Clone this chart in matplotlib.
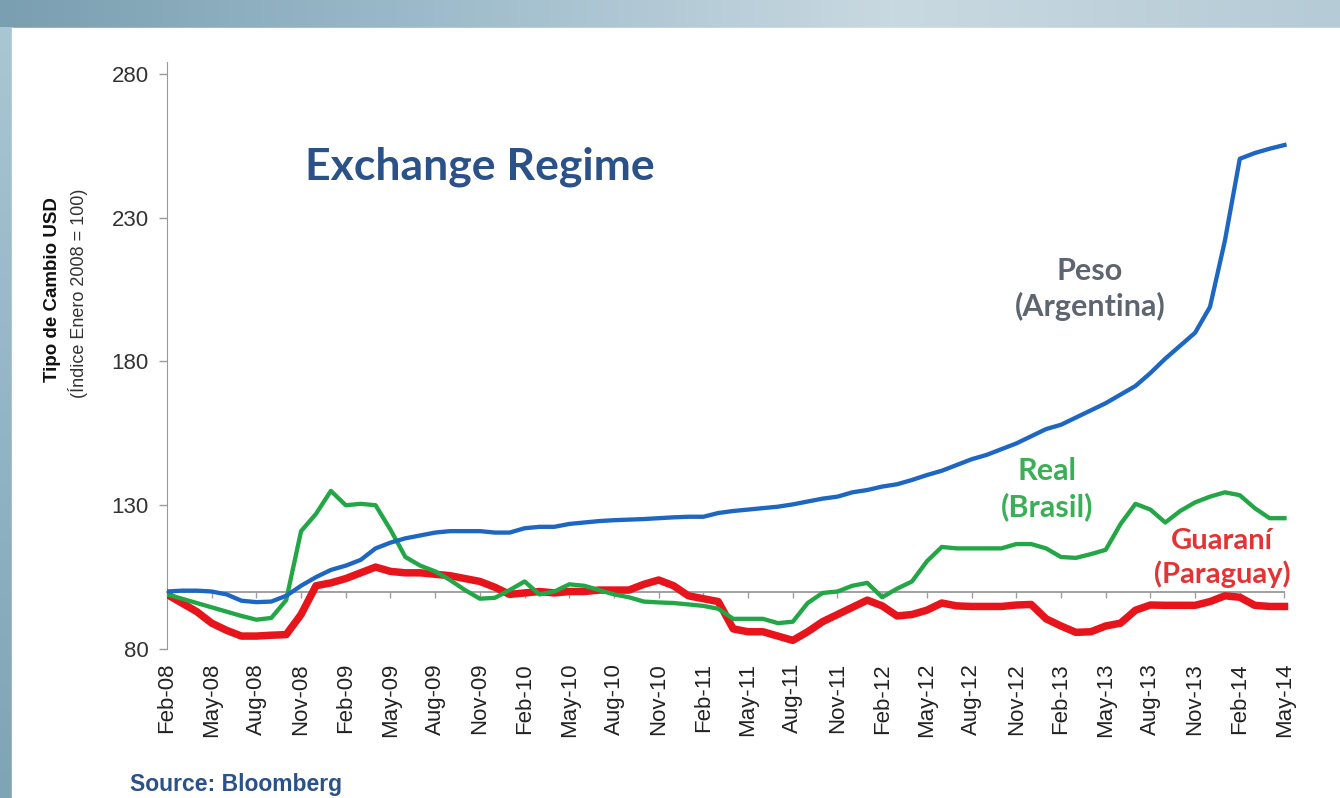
#!/usr/bin/env python3
import matplotlib.pyplot as plt
from matplotlib.colors import LinearSegmentedColormap
from matplotlib.patches import Rectangle
import numpy as np

# monthly index, Feb-08 .. May-14 (Enero 2008 = 100)
peso = [100, 100.3, 100.3, 100, 99, 96.8, 96.3, 96.5, 98.5, 102,
        105, 107.5, 109, 111, 115, 117, 118.5, 119.5, 120.5, 121,
        121, 121, 120.5, 120.5, 122, 122.5, 122.5, 123.5, 124, 124.5,
        124.8, 125, 125.2, 125.5, 125.8, 126, 126, 127.3, 128, 128.5,
        129, 129.5, 130.3, 131.3, 132.3, 133, 134.5, 135.3, 136.5, 137.3,
        138.8, 140.5, 142, 144, 146, 147.5, 149.5, 151.5, 154, 156.5,
        158, 160.5, 163, 165.5, 168.5, 171.5, 176, 181, 185.5, 190,
        199, 222, 250.5, 252.5, 254, 255.3]
real = [99, 97.5, 96, 94.5, 93, 91.5, 90.2, 90.8, 97, 121,
        127, 135, 130, 130.5, 130, 121.5, 112, 109, 107, 104,
        100.5, 97.5, 97.8, 100.5, 103.5, 99, 100, 102.5, 102, 100.5,
        99, 98, 96.5, 96.2, 96, 95.5, 95, 94, 90.5, 90.5,
        90.5, 89, 89.5, 96, 99.5, 100, 102, 103, 98, 101,
        103.5, 110.5, 115.5, 115, 115, 115, 115, 116.5, 116.5, 115,
        112, 111.7, 113, 114.5, 123.5, 130.5, 128.5, 124, 128, 131,
        133, 134.5, 133.5, 129, 125.5, 125.5]
guarani = [99, 96, 93, 89, 86.5, 84.5, 84.5, 84.8, 85, 92,
           102, 103, 104.5, 106.5, 108.5, 107, 106.5, 106.5, 106, 105.5,
           104.5, 103.5, 101.5, 99, 99.5, 100, 99.5, 100, 100, 100.5,
           100.5, 100.5, 102.5, 104, 102, 98.5, 97.5, 96.5, 87, 86,
           86, 84.5, 83, 86, 89.5, 92, 94.5, 97, 95, 91.5,
           92, 93.5, 96, 95, 94.8, 94.8, 94.8, 95.3, 95.5, 90.5,
           88, 85.8, 86, 88, 89, 93.5, 95.3, 95.2, 95.2, 95.2,
           96.5, 98.5, 98, 95.2, 94.8, 94.8]

tick_labels = ['Feb-08', 'May-08', 'Aug-08', 'Nov-08', 'Feb-09', 'May-09', 'Aug-09',
               'Nov-09', 'Feb-10', 'May-10', 'Aug-10', 'Nov-10', 'Feb-11', 'May-11',
               'Aug-11', 'Nov-11', 'Feb-12', 'May-12', 'Aug-12', 'Nov-12', 'Feb-13',
               'May-13', 'Aug-13', 'Nov-13', 'Feb-14', 'May-14']
y_ticks = [80, 130, 180, 230, 280]

months = np.arange(len(peso))
tick_pos = np.arange(0, len(peso), 3)

fig = plt.figure(figsize=(13.4, 7.98), dpi=100)
fig.patch.set_facecolor('white')

# slide frame behind the chart
bg = fig.add_axes([0, 0, 1, 1], zorder=-10)
top_cmap = LinearSegmentedColormap.from_list('frame', ['#7a9fb1', '#9ebccb', '#c9d9e1', '#b5cbd6'])
side_cmap = LinearSegmentedColormap.from_list('side', ['#a9c6d4', '#7fa4b5'])
bg.imshow(np.linspace(0, 1, 256)[None, :], extent=[0, 1, 0, 1], aspect='auto', cmap=top_cmap)
bg.imshow(np.linspace(0, 1, 256)[:, None], extent=[0, 0.009, 0, 0.965], aspect='auto', cmap=side_cmap)
bg.add_patch(Rectangle((0.009, 0), 1, 0.965, color='white', zorder=2))
bg.set_xlim(0, 1)
bg.set_ylim(0, 1)
bg.axis('off')

ax = fig.add_axes([0.1246, 0.1867, 0.8451, 0.735])
ax.patch.set_alpha(0)

ax.plot(months, guarani, color='#e8141b', lw=5.4, solid_joinstyle='round', zorder=3)
ax.plot(months, real, color='#22a646', lw=3.1, solid_joinstyle='round', zorder=4)
ax.plot(months, peso, color='#1d67c2', lw=3.1, solid_joinstyle='round', zorder=5)

ax.set_xlim(0, 76)
ax.set_ylim(80, 284)
ax.set_yticks(y_ticks)
ax.set_yticklabels([str(v) for v in y_ticks], fontsize=16, color='#333333', family='Liberation Sans')
ax.tick_params(axis='y', length=6, width=1, color='#999999', pad=7)

# category axis crosses at 100, labels stay at the bottom
ax.spines['bottom'].set_position(('data', 100))
ax.spines['bottom'].set_color('#a0a0a0')
ax.spines['bottom'].set_linewidth(1.4)
ax.spines['bottom'].set_bounds(0, 75)
ax.spines['bottom'].set_zorder(2)
ax.spines['left'].set_color('#999999')
ax.spines['top'].set_visible(False)
ax.spines['right'].set_visible(False)
ax.set_xticks(tick_pos)
ax.tick_params(axis='x', length=4, width=1, color='#a0a0a0', labelbottom=False)

lab = ax.secondary_xaxis(0.0)
lab.set_xticks(tick_pos)
lab.set_xticklabels(tick_labels, rotation=90, fontsize=16, color='#222222', family='Liberation Sans')
lab.tick_params(length=0, pad=10)
lab.spines['bottom'].set_visible(False)

fig.text(0.039, 0.637, 'Tipo de Cambio USD', rotation=90, ha='center', va='center',
         fontsize=13.5, fontweight='bold', family='Liberation Sans', color='#111111')
fig.text(0.0585, 0.632, '(Índice Enero 2008 = 100)', rotation=90, ha='center', va='center',
         fontsize=13, family='Liberation Sans', color='#333333')

fig.text(305 / 1340, 1 - 167 / 798, 'Exchange Regime', fontsize=32,
         fontweight='bold', family='Lato', color='#2b5189', va='center')

fig.text(1090 / 1340, 1 - 289 / 798, 'Peso\n(Argentina)', ha='center', va='center',
         fontsize=22, fontweight='bold', family='Lato', color='#5d6670', linespacing=1.3)
fig.text(1047 / 1340, 1 - 489 / 798, 'Real\n(Brasil)', ha='center', va='center',
         fontsize=22, fontweight='bold', family='Lato', color='#3cae58', linespacing=1.3)
fig.text(1222 / 1340, 1 - 558 / 798, 'Guaraní\n(Paraguay)', ha='center', va='center',
         fontsize=21, fontweight='bold', family='Lato', color='#e23434', linespacing=1.3)

fig.text(130 / 1340, 1 - 785 / 798, 'Source: Bloomberg', fontsize=16.5, fontweight='bold',
         family='Liberation Sans', color='#2b5189', va='center')

plt.savefig('out.png', dpi=100)
